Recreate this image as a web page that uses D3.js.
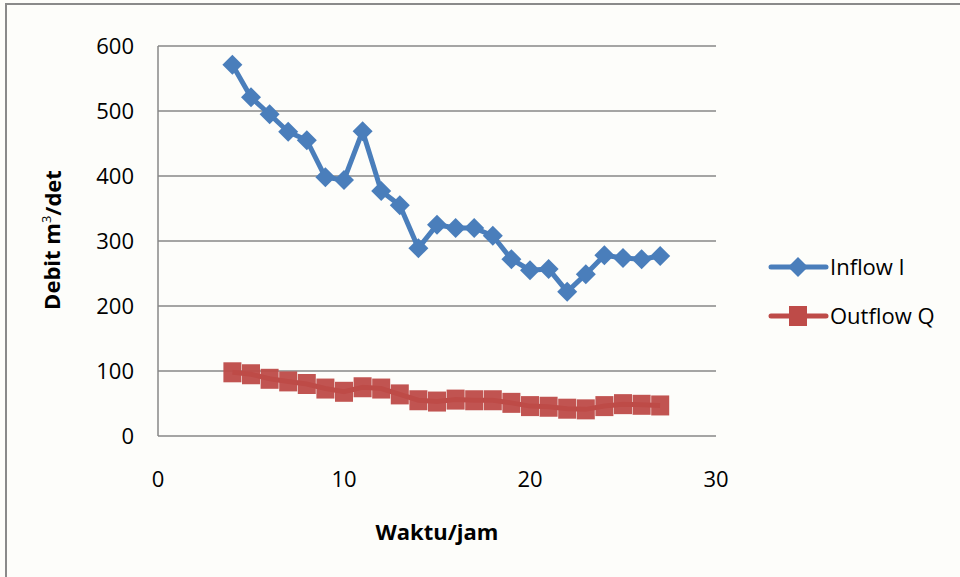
<!DOCTYPE html>
<html><head><meta charset="utf-8">
<script src="https://cdn.jsdelivr.net/npm/d3@7"></script>
<style>body{margin:0;background:#fff}svg{display:block}</style>
</head><body>
<script>
const hours = [4,5,6,7,8,9,10,11,12,13,14,15,16,17,18,19,20,21,22,23,24,25,26,27];
const inflow = [571,521,495,468,455,398,394,469,377,355,289,325,320,320,308,272,255,257,222,249,278,274,272,277];
const outflow = [98,95,88,84,80,73,68,75,73,64,55,53,56,55,55,51,46,45,42,41,46,49,48,47];
const xTicks = [0,10,20,30];
const yTicks = [0,100,200,300,400,500,600];
const seriesNames = ["Inflow I","Outflow Q"];

const W=960,H=577;
const svg=d3.select("body").append("svg").attr("width",W).attr("height",H);
svg.append("rect").attr("width",W).attr("height",H).attr("fill","#fdfdfa");
// frame
svg.append("path").attr("d","M6,577V4H960").attr("fill","none").attr("stroke","#8a8a8a").attr("stroke-width",2);

const x=d3.scaleLinear().domain([0,30]).range([158,716]);
const y=d3.scaleLinear().domain([0,600]).range([436,46]);
const font="'Open Sans', 'Liberation Sans', sans-serif";

// gridlines
svg.append("g").selectAll("line").data(yTicks).join("line")
  .attr("x1",x(0)).attr("x2",x(30)).attr("y1",d=>y(d)).attr("y2",d=>y(d))
  .attr("stroke","#878787").attr("stroke-width",1.5);
svg.append("line").attr("x1",x(0)).attr("x2",x(0)).attr("y1",y(0)).attr("y2",y(600))
  .attr("stroke","#878787").attr("stroke-width",1.5);

// tick labels
svg.append("g").selectAll("text").data(yTicks).join("text")
  .attr("x",134).attr("y",d=>y(d)).attr("dy","0.35em").attr("text-anchor","end")
  .attr("font-family",font).attr("font-size",22).attr("fill","#000").text(d=>d);
svg.append("g").selectAll("text").data(xTicks).join("text")
  .attr("x",d=>x(d)).attr("y",479).attr("dy","0.35em").attr("text-anchor","middle")
  .attr("font-family",font).attr("font-size",22).attr("fill","#000").text(d=>d);

// axis titles
svg.append("text").attr("x",437).attr("y",532).attr("dy","0.35em").attr("text-anchor","middle")
  .attr("font-family",font).attr("font-size",22).attr("font-weight","bold").text("Waktu/jam");
const yt=svg.append("text").attr("transform","translate(52,240) rotate(-90)").attr("text-anchor","middle")
  .attr("dy","0.35em").attr("font-family",font).attr("font-size",22).attr("font-weight","bold");
yt.append("tspan").text("Debit m");
yt.append("tspan").attr("font-size",13).attr("font-weight","normal").attr("dy","-0.7em").text("3");
yt.append("tspan").attr("dy","0.45em").text("/det");

const blue="#4a7ebb", red="#be4b48";
const line=d3.line().x((d,i)=>x(hours[i])).y(d=>y(d));
svg.append("path").datum(inflow).attr("d",line).attr("fill","none").attr("stroke",blue).attr("stroke-width",5).attr("stroke-linejoin","round");
svg.append("g").selectAll("path").data(inflow).join("path")
  .attr("d",d3.symbol(d3.symbolSquare,200))
  .attr("transform",(d,i)=>`translate(${x(hours[i])},${y(d)}) rotate(45)`).attr("fill",blue);

svg.append("path").datum(outflow).attr("d",line).attr("fill","none").attr("stroke",red).attr("stroke-width",5);
svg.append("g").selectAll("rect").data(outflow).join("rect")
  .attr("x",(d,i)=>x(hours[i])-9).attr("y",d=>y(d)-10).attr("width",18).attr("height",20).attr("fill",red).attr("opacity",0.95);

// legend
const lg=svg.append("g");
[[267,blue,"d"],[316,red,"s"]].forEach(([ly,c,t],k)=>{
  lg.append("line").attr("x1",771).attr("x2",826).attr("y1",ly).attr("y2",ly).attr("stroke",c).attr("stroke-width",5).attr("stroke-linecap","round");
  if(t==="d") lg.append("path").attr("d",d3.symbol(d3.symbolSquare,200)).attr("transform",`translate(798,${ly}) rotate(45)`).attr("fill",c);
  else lg.append("rect").attr("x",789).attr("y",ly-10).attr("width",18).attr("height",20).attr("fill",c);
  lg.append("text").attr("x",830).attr("y",ly).attr("dy","0.35em").attr("font-family",font).attr("font-size",22).text(seriesNames[k]);
});
</script>
</body></html>
